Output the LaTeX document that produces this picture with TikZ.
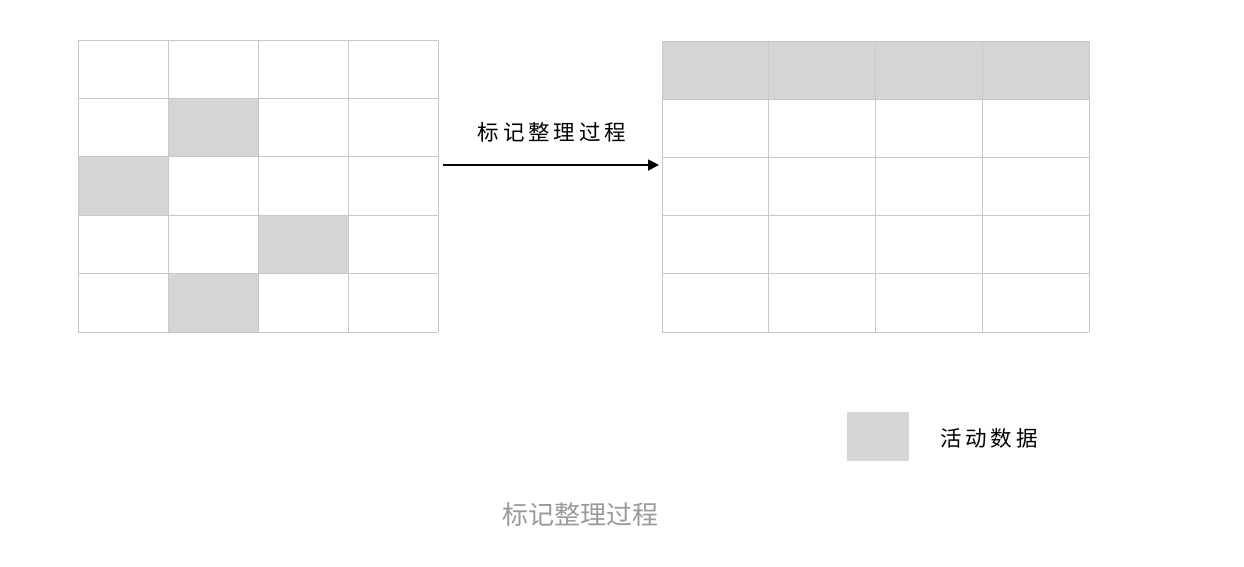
\documentclass[tikz,border=0pt]{standalone}
\usetikzlibrary{arrows.meta}
\usepackage{fontspec}
\newfontfamily\cjk{Noto Sans CJK SC}
\newfontfamily\cjkhand[LetterSpace=18]{Noto Sans CJK SC}
\definecolor{cellgray}{HTML}{D5D5D5}
\definecolor{gridline}{HTML}{C8C8C8}
\definecolor{captiongray}{HTML}{9A9A9A}
\begin{document}
\begin{tikzpicture}[x=1pt,y=-1pt,
  handlabel/.style={font=\cjkhand\fontsize{21.5}{24}\selectfont,text=black,inner sep=0pt},
  caption/.style={font=\cjk\fontsize{26}{28}\selectfont,text=captiongray,inner sep=0pt}]
\useasboundingbox (0,0) rectangle (1244,566);
% left grid
\fill[cellgray] (168,98.4) rectangle (258,156.8);
\fill[cellgray] (78,156.8) rectangle (168,215.2);
\fill[cellgray] (258,215.2) rectangle (348,273.6);
\fill[cellgray] (168,273.6) rectangle (258,332);
\foreach \i in {0,...,4} {\draw[gridline,line width=0.9pt] (78+90*\i,40) -- (78+90*\i,332);}
\foreach \j in {0,...,5} {\draw[gridline,line width=0.9pt] (78,40+58.4*\j) -- (438,40+58.4*\j);}
\node[inner sep=0pt,minimum width=360pt,minimum height=292pt] (left) at (258,186) {};
% right grid
\fill[cellgray] (662,41) rectangle (1089,99.2);
\foreach \i in {0,...,4} {\draw[gridline,line width=0.9pt] (662+106.75*\i,41) -- (662+106.75*\i,332);}
\foreach \j in {0,...,5} {\draw[gridline,line width=0.9pt] (662,41+58.2*\j) -- (1089,41+58.2*\j);}
\node[inner sep=0pt,minimum width=427pt,minimum height=291pt] (right) at (875.5,186.5) {};
% arrow
\coordinate (as) at (443,165);
\coordinate (ae) at (659,165);
\draw[line width=1.8pt,-{Triangle[length=11pt,width=11pt]}] (as) -- (ae);
\node[handlabel] (lab) at (552,132) {标记整理过程};
% legend
\node[fill=cellgray,minimum width=62pt,minimum height=49pt,inner sep=0pt] (key) at (877.5,436) {};
\node[handlabel,anchor=west] (keylab) at (940,438) {活动数据};
% caption
\node[caption] (cap) at (580,515) {标记整理过程};
\end{tikzpicture}
\end{document}
